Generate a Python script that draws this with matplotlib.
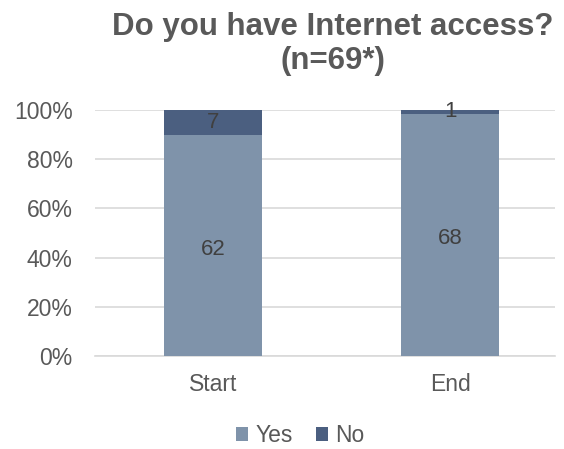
import matplotlib
matplotlib.use("Agg")
import matplotlib.pyplot as plt
import matplotlib.transforms as mtransforms
import numpy as np

categories = ["Start", "End"]
yes_counts = [62, 68]
no_counts = [7, 1]
series_names = ["Yes", "No"]

plt.rcParams['font.family'] = ['Liberation Sans', 'DejaVu Sans']

yes = np.array(yes_counts, dtype=float)
no = np.array(no_counts, dtype=float)
tot = yes + no
yes_pct = yes / tot * 100
no_pct = no / tot * 100

fig = plt.figure(figsize=(5.64, 4.49), dpi=100)
W, H = 564, 449
left, right, top, bottom = 95, 555, 110, 356
ax = fig.add_axes([left / W, 1 - bottom / H, (right - left) / W, (bottom - top) / H])

c_yes = "#7F93AA"
c_no = "#4B5F80"
x = np.arange(len(categories))
bw = 0.41
ax.bar(x, yes_pct, bw, color=c_yes, label=series_names[0], zorder=3)
ax.bar(x, no_pct, bw, bottom=yes_pct, color=c_no, label=series_names[1], zorder=3)

txt = "#404040"
shift = mtransforms.offset_copy(ax.transData, fig=fig, x=0, y=-3, units="points")
for i in range(len(x)):
    ax.text(x[i], yes_pct[i] / 2, f"{yes_counts[i]}", ha="center", va="center",
            fontsize=16, color=txt, zorder=4, transform=shift)
    ax.text(x[i], yes_pct[i] + no_pct[i] / 2, f"{no_counts[i]}", ha="center", va="center",
            fontsize=16, color=txt, zorder=4)

ax.set_xlim(-0.498, 1.443)
ax.set_ylim(0, 100)
ax.set_yticks(np.arange(0, 101, 20))
ax.set_yticklabels([f"{v}%" for v in range(0, 101, 20)])
ax.set_xticks(x)
ax.set_xticklabels(categories)
ax.tick_params(axis="both", length=0, labelsize=16.5, labelcolor="#595959")
ax.tick_params(axis="y", pad=16)
ax.tick_params(axis="x", pad=12)
ax.grid(axis="y", color="#D9D9D9", linewidth=1.2, zorder=0)
for s in ["top", "right", "left"]:
    ax.spines[s].set_visible(False)
ax.spines["bottom"].set_color("#D9D9D9")
ax.spines["bottom"].set_linewidth(1.2)

fig.text(333 / W, 1 - 44 / H, "Do you have Internet access?\n(n=69*)", ha="center", va="center",
         fontsize=22.5, fontweight="bold", color="#595959", linespacing=1.2)

leg = fig.legend(loc="center", bbox_to_anchor=(300 / W, 1 - 436 / H), ncol=2, frameon=False,
                 fontsize=16.5, handlelength=0.55, handleheight=0.55, handletextpad=0.3,
                 columnspacing=1.0, labelcolor="#595959")

fig.savefig("out.png", dpi=100)
